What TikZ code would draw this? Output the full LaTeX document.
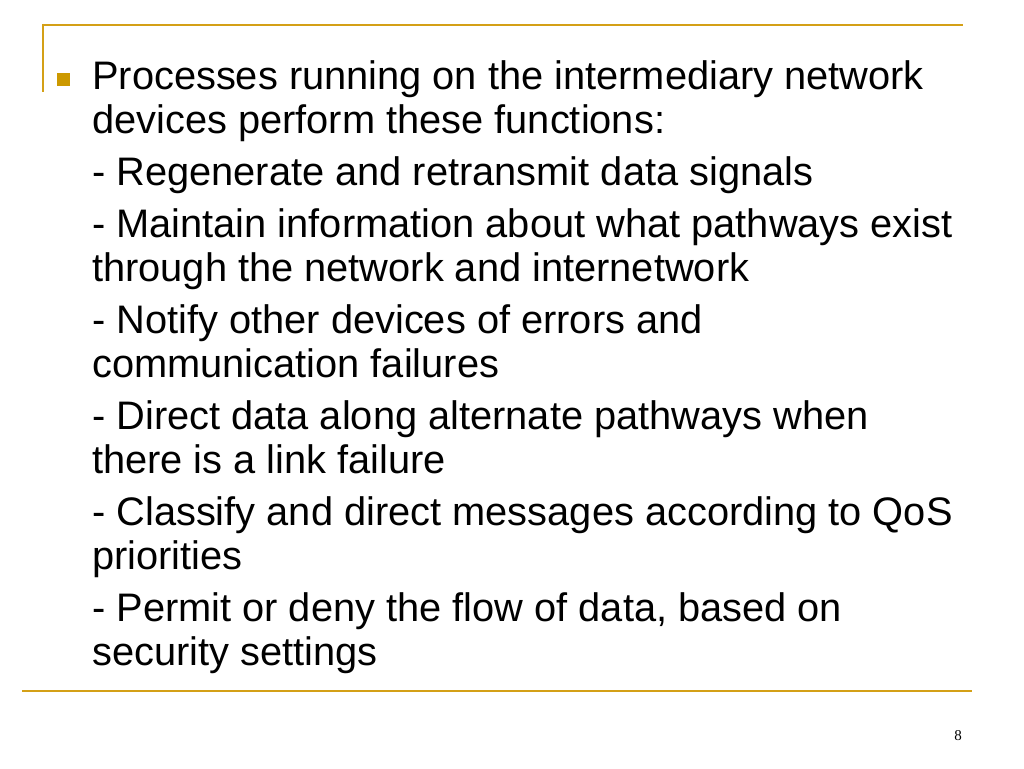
\documentclass[tikz,border=0pt]{standalone}
\usepackage{fontspec}
\setmainfont{Liberation Sans}
\newfontfamily\numfont{Liberation Serif}
\usetikzlibrary{positioning}
\definecolor{lineGold}{RGB}{212,160,23}
\definecolor{bulletGold}{RGB}{204,153,0}

\begin{document}
\begin{tikzpicture}[x=1pt, y=-1pt,
    txt/.style={anchor=base west, inner sep=0pt, font=\fontsize{39.8}{45}\selectfont}]
    \useasboundingbox (0,0) rectangle (1024,768);

    % Frame lines
    \draw[lineGold, line width=2pt] (42,25) -- (963,25);
    \draw[lineGold, line width=2pt] (43,24) -- (43,92);
    \draw[lineGold, line width=2pt] (22,691) -- (972,691);

    % Bullet
    \fill[bulletGold] (57,73) rectangle (70,86);

    % Text lines
    \node[txt] (l1)  at (92,89)  {Processes running on the intermediary network};
    \node[txt] (l2)  at (92,133) {devices perform these functions:};
    \node[txt] (l3)  at (92,185) {- Regenerate and retransmit data signals};
    \node[txt] (l4)  at (92,237) {- Maintain information about what pathways exist};
    \node[txt] (l5)  at (92,281) {through the network and internetwork};
    \node[txt] (l6)  at (92,333) {- Notify other devices of errors and};
    \node[txt] (l7)  at (92,377) {communication failures};
    \node[txt] (l8)  at (92,429) {- Direct data along alternate pathways when};
    \node[txt] (l9)  at (92,473) {there is a link failure};
    \node[txt] (l10) at (92,525) {- Classify and direct messages according to QoS};
    \node[txt] (l11) at (92,569) {priorities};
    \node[txt] (l12) at (92,621) {- Permit or deny the flow of data, based on};
    \node[txt] (l13) at (92,665) {security settings};

    % Page number
    \node[font=\numfont\fontsize{15}{17}\selectfont] (page) at (958,736) {8};
\end{tikzpicture}
\end{document}
